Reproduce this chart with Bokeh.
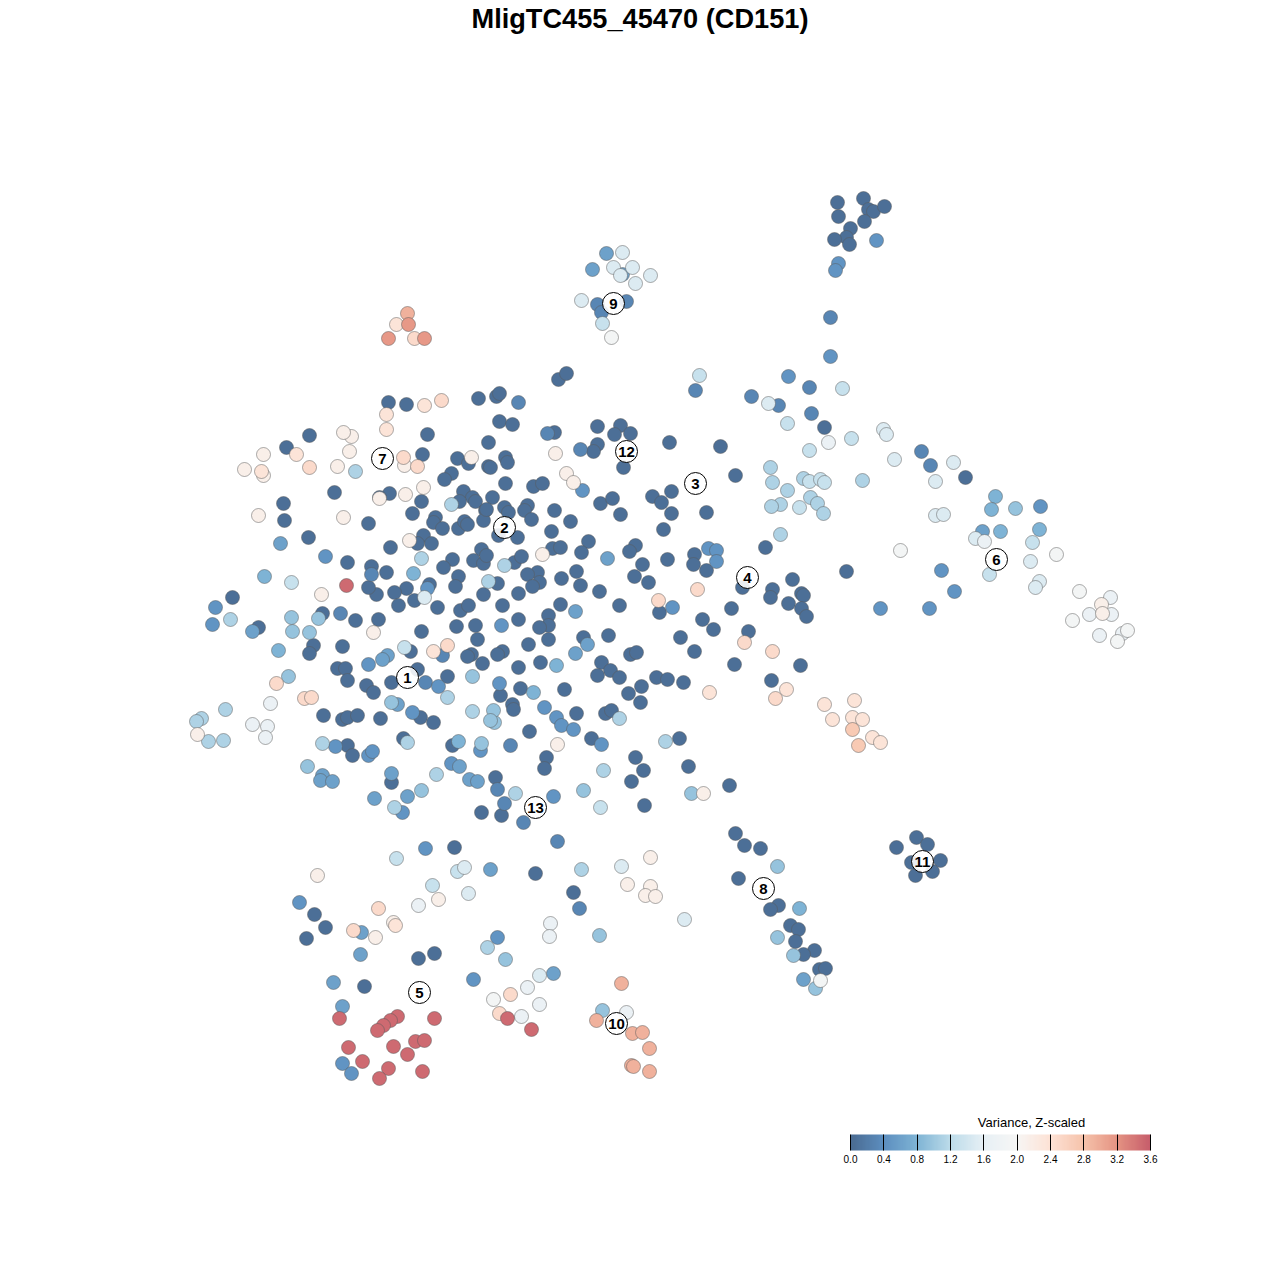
from bokeh.plotting import figure
from bokeh.models import Range1d, LinearColorMapper, ColorBar, FixedTicker, NumeralTickFormatter, ColumnDataSource
from bokeh.core.properties import value
from bokeh.embed import file_html
from bokeh.resources import INLINE

TITLE = "MligTC455_45470 (CD151)"
LEGEND_TITLE = "Variance, Z-scaled"
TICKS = [0.0, 0.4, 0.8, 1.2, 1.6, 2.0, 2.4, 2.8, 3.2, 3.6]
STOPS = ["#4a6b92", "#5d8fc0", "#7fb4d5", "#bddcea", "#e7f0f5", "#f7f6f5",
         "#fde2d5", "#f6c3ab", "#e59383", "#c75d6b"]

# embedding positions (x, y pairs), grouped by variance level
v005 = [388,402, 406,404, 478,398, 427,434, 309,435, 286,447, 422,454, 457,458, 468,463, 488,466, 451,473, 444,479,
 334,492, 389,493, 379,497, 421,501, 463,491, 472,497, 459,501, 475,501, 485,510, 283,503, 284,520, 412,513,
 435,517, 433,522, 442,528, 458,528, 464,521, 467,524, 483,520, 368,523, 308,537, 390,547, 423,535, 417,543,
 431,543, 347,562, 371,566, 386,572, 481,549, 473,560, 483,563, 486,555, 452,559, 443,567, 458,576, 455,586,
 406,588, 394,592, 376,594, 368,587, 429,584, 398,605, 414,600, 437,607, 483,594, 460,610, 468,605, 232,597,
 322,613, 355,620, 378,619, 258,627, 421,631, 456,626, 475,625, 477,639, 313,645, 309,653, 342,646, 410,651,
 471,654, 467,656, 482,663, 337,668, 345,668, 347,680, 417,669, 447,676, 366,685, 373,692, 391,682, 420,717,
 433,722, 323,715, 342,719, 347,717, 357,715, 380,718, 347,745, 352,755, 403,738, 452,745, 391,782,
 496,396, 499,393, 499,421, 512,424, 488,442, 597,426, 620,425, 614,434, 630,433, 669,442, 597,444, 593,451,
 554,432, 505,457, 507,462, 490,467, 623,467, 505,483, 533,486, 542,483, 492,497, 504,507, 508,512, 486,509,
 527,505, 524,510, 531,519, 554,510, 570,521, 600,503, 612,498, 620,514, 652,496, 661,502, 671,491, 671,513,
 663,529, 498,535, 517,537, 551,531, 588,541, 581,552, 552,548, 560,547, 635,545, 629,551, 642,564, 634,576,
 648,582, 667,559, 694,554, 693,564, 514,562, 521,556, 537,572, 527,574, 539,582, 532,586, 576,571, 580,585,
 599,591, 561,578, 497,583, 518,593, 502,605, 560,604, 619,605, 548,615, 518,619, 548,625, 539,627, 528,644,
 548,639, 583,637, 608,635, 680,637, 659,612, 694,651, 630,654, 636,652, 502,651, 497,654, 518,667, 540,662,
 601,662, 610,670, 597,675, 619,677, 656,677, 667,679, 683,682, 734,664, 641,686, 628,693, 640,702, 500,695,
 520,688, 564,689, 512,704, 513,709, 529,731, 576,713, 605,713, 611,710, 591,738, 679,738, 546,757, 544,768,
 635,757, 643,770, 631,781, 688,766, 729,785, 495,777, 481,812, 501,815, 644,805, 735,833, 720,446, 735,475,
 706,512, 765,547, 706,570, 846,571, 792,579, 772,589, 770,597, 801,593, 803,595, 788,603, 801,608, 806,616,
 731,608, 702,619, 713,629, 748,631, 800,665, 742,587, 558,379, 566,373, 837,202, 863,198, 868,209, 873,211,
 884,206, 838,216, 864,221, 850,228, 846,237, 834,239, 849,244, 916,837, 927,844, 896,847, 940,860, 911,862,
 932,871, 915,875, 744,845, 760,848, 738,878, 778,905, 770,909, 790,925, 798,929, 795,941, 814,950, 803,954,
 819,969, 825,968, 454,847, 535,873, 314,914, 325,927, 306,938, 418,958, 434,953, 364,986, 573,892, 965,477,
 824,427, 771,680]
v030 = [518,402, 547,433, 580,449, 695,390, 751,396, 809,387, 778,405, 811,413, 921,451, 930,465, 597,304, 626,301,
 601,312, 557,841, 579,908, 340,613, 371,574, 504,803, 497,789, 523,822, 442,655, 425,682, 510,745, 830,317]
v045 = [582,490, 672,607, 501,625, 499,683, 544,707, 556,717, 561,725, 573,729, 601,744, 553,796, 451,763, 427,588,
 368,664, 438,686, 412,712, 335,746, 368,755, 372,751, 402,812, 788,376, 876,240, 838,263, 835,270, 830,356,
 708,548, 716,550, 716,561, 880,608, 941,570, 954,591, 480,750, 425,848, 299,902, 497,937, 473,979, 342,1063,
 351,1073, 325,556, 215,607, 212,624, 1040,506, 929,608]
v060 = [459,766, 469,779, 477,781, 575,653, 587,644, 607,558, 575,611, 280,543, 252,631, 387,655, 382,659, 397,704,
 322,775, 320,780, 332,781, 391,773, 374,798, 407,796, 606,253, 622,274, 592,269, 490,869, 361,932, 360,954,
 553,973, 803,979, 342,1006, 333,982, 982,531]
v080 = [533,692, 556,665, 458,741, 413,573, 264,576, 278,650, 995,496, 991,509, 1039,529, 1000,531, 799,908]
v095 = [472,676, 494,722, 493,710, 490,720, 481,743, 583,790, 691,793, 288,676, 391,702, 292,631, 309,632, 291,617,
 318,618, 307,766, 421,790, 602,1010, 599,935, 505,959, 1015,508, 777,866, 777,937, 793,955, 815,988]
v110 = [447,697, 472,711, 619,718, 665,741, 515,793, 603,770, 421,558, 355,471, 451,504, 504,565, 488,581, 230,619,
 225,709, 201,718, 196,721, 208,741, 223,740, 322,743, 407,742, 436,774, 394,807, 780,534, 770,467, 772,482,
 787,490, 803,478, 810,497, 817,503, 823,513, 780,504, 771,506, 862,480, 487,947, 581,869]
v130 = [600,807, 404,647, 291,582, 699,375, 842,388, 787,423, 851,438, 809,450, 809,481, 820,479, 824,482, 799,507,
 396,858, 457,871, 432,885, 602,323, 1032,542, 989,574]
v150 = [424,597, 768,403, 883,429, 886,434, 894,459, 953,462, 935,481, 935,515, 943,514, 975,538, 1039,581, 1035,587,
 1030,561, 622,252, 613,267, 632,267, 620,275, 650,275, 635,283, 581,300, 464,867, 468,893, 621,866, 684,919,
 539,975]
v170 = [270,703, 252,724, 267,726, 265,737, 828,442, 984,541, 1110,597, 1089,614, 1111,614, 1099,635, 1122,633,
 418,905, 550,923, 549,936, 527,987, 539,1004, 521,1016, 626,1012]
v190 = [900,550, 1056,554, 1079,591, 1072,620, 1127,630, 1117,641, 611,337, 820,980, 493,999]
v215 = [351,436, 343,432, 349,451, 263,454, 244,469, 263,475, 337,466, 404,465, 471,457, 379,498, 405,494, 423,487,
 258,515, 343,517, 409,540, 321,594, 373,632, 555,453, 566,473, 573,482, 542,554, 557,744, 703,793, 197,734,
 1101,604, 1102,613, 317,875, 438,899, 393,922, 375,937, 650,857, 627,884, 650,886, 645,895, 655,896]
v235 = [424,405, 386,414, 386,429, 296,454, 261,471, 433,651, 709,692, 786,689, 824,704, 854,700, 832,719, 852,717,
 862,719, 872,737, 880,742, 396,324, 395,925]
v250 = [441,400, 309,467, 403,457, 417,466, 447,645, 658,600, 697,589, 744,642, 772,651, 276,683, 304,698, 311,697,
 414,338, 378,908, 353,930, 510,994, 499,1013, 775,698]
v270 = [852,729, 858,745]
v295 = [407,313, 621,983, 596,1020, 632,1033, 642,1032, 631,1065, 633,1066, 649,1071, 649,1048]
v315 = [388,338, 424,338, 408,324]
v350 = [346,585, 339,1018, 397,1016, 390,1020, 383,1025, 377,1030, 434,1018, 507,1018, 531,1029, 348,1047, 393,1046,
 415,1041, 424,1040, 407,1054, 362,1061, 388,1068, 379,1078, 422,1071]

LEVELS = [(0.05, v005), (0.3, v030), (0.45, v045), (0.6, v060), (0.8, v080), (0.95, v095), (1.1, v110),
          (1.3, v130), (1.5, v150), (1.7, v170), (1.9, v190), (2.15, v215), (2.35, v235), (2.5, v250),
          (2.7, v270), (2.95, v295), (3.15, v315), (3.5, v350)]

cluster_labels = ["1", "2", "3", "4", "5", "6", "7", "8", "9", "10", "11", "12", "13"]
cluster_x = [407, 504, 695, 747, 419, 996, 382, 763, 613, 616, 922, 626, 535]
cluster_y = [677, 527, 483, 577, 992, 559, 458, 888, 303, 1023, 861, 451, 807]

def make_palette(stops, n=256):
    rgb = [tuple(int(s[i:i + 2], 16) for i in (1, 3, 5)) for s in stops]
    out = []
    for k in range(n):
        t = k / (n - 1) * (len(rgb) - 1)
        i = min(int(t), len(rgb) - 2)
        f = t - i
        c = [round(rgb[i][j] + (rgb[i + 1][j] - rgb[i][j]) * f) for j in range(3)]
        out.append("#%02x%02x%02x" % tuple(c))
    return out

mapper = LinearColorMapper(palette=make_palette(STOPS), low=TICKS[0], high=TICKS[-1])

xs, ys, vs = [], [], []
for lev, pts in LEVELS:
    xs += pts[::2]
    ys += pts[1::2]
    vs += [lev] * (len(pts) // 2)
src = ColumnDataSource(dict(x=xs, y=ys, v=vs))

TOP = 33
BOTTOM = 1240
p = figure(title=TITLE, frame_width=1264, frame_height=BOTTOM - TOP, output_backend="svg", toolbar_location=None,
           x_range=Range1d(0, 1264), y_range=Range1d(BOTTOM, TOP),
           x_axis_type=None, y_axis_type=None,
           min_border_top=TOP, min_border_left=0, min_border_right=0, min_border_bottom=0)
p.grid.visible = False
p.outline_line_color = None
p.title.align = "left"
p.title.offset = 471
p.title.standoff = 0
p.title.text_line_height = 0.9
p.title.text_font = "Liberation Sans"
p.title.text_font_style = "bold"
p.title.text_font_size = "27.2px"
p.title.text_color = "#000000"

p.scatter("x", "y", source=src, size=14, marker="circle",
          fill_color={"field": "v", "transform": mapper}, fill_alpha=1.0,
          line_color="#5a5a5a", line_alpha=0.5, line_width=1)

p.scatter(cluster_x, cluster_y, size=22, marker="circle", fill_color="#ffffff", fill_alpha=0.88,
          line_color="#000000", line_width=1)
p.text(cluster_x, cluster_y, text=cluster_labels, text_align="center", text_baseline="middle",
       text_font=value("Liberation Sans"), text_font_style="bold", text_font_size="15px", text_color="#000000")

p.text([1031], [1122], text=[LEGEND_TITLE], text_align="center", text_baseline="middle",
       text_font=value("Liberation Sans"), text_font_size="13px", text_color="#000000")

cb = ColorBar(color_mapper=mapper, orientation="horizontal", width=300, height=16, location=(850, 75),
              padding=0, margin=0, ticker=FixedTicker(ticks=TICKS), formatter=NumeralTickFormatter(format="0.0"),
              major_tick_line_color="#000000", major_tick_line_width=1, major_tick_in=16, major_tick_out=0,
              minor_tick_line_color=None, bar_line_color=None, border_line_color=None, background_fill_color=None,
              major_label_text_font="Liberation Sans", major_label_text_font_size="10px",
              major_label_text_color="#000000", label_standoff=4)
p.add_layout(cb, "center")

open("out.html", "w").write(file_html(p, INLINE))
